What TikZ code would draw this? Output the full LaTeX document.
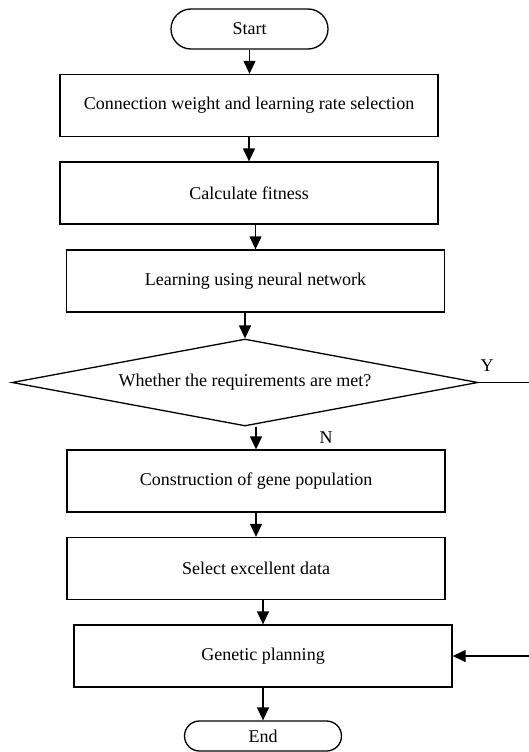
\documentclass[tikz,border=0pt]{standalone}
\usepackage{fontspec}
\setmainfont{Liberation Serif}
\usetikzlibrary{arrows.meta,shapes.geometric}

\begin{document}
\begin{tikzpicture}[x=1pt,y=-1pt,
  box/.style={draw, line width=1.3pt, minimum width=378pt, minimum height=62pt, inner sep=0pt},
  term/.style={draw, line width=1.3pt, rounded corners=20pt, minimum width=157pt, minimum height=40pt, inner sep=0pt},
  decision/.style={draw, diamond, aspect=5.36, line width=1.3pt, minimum width=466pt, minimum height=87pt, inner sep=0pt},
  arr/.style={-{Triangle[length=13pt,width=12pt]}, line width=1.3pt},
  font=\fontsize{18}{21}\selectfont]
\useasboundingbox (0,0) rectangle (529,752);

\node[term] (start) at (249.5,29) {Start};
\node[box] (weight) at (249,105.5) {Connection weight and learning rate selection};
\node[box] (fitness) at (249,193) {Calculate fitness};
\node[box] (learn) at (255.5,281) {Learning using neural network};
\node[decision] (check) at (245,382.5) {Whether the requirements are met?};
\node[box] (gene) at (256,481) {Construction of gene population};
\node[box] (select) at (256,568.5) {Select excellent data};
\node[box] (plan) at (263,656) {Genetic planning};
\node[term, rounded corners=15pt, minimum height=30pt] (end) at (263,736) {End};

\node (yes) at (487,366) {Y};
\node (no) at (326,438) {N};
\coordinate (back) at (545,382.5);

\draw[arr] (start.south) -- (start.south |- weight.north);
\draw[arr] (weight.south) -- (fitness.north);
\draw[arr] (fitness.south -| learn.north) -- (learn.north);
\draw[arr] (learn.south -| check.north) -- (check.north);
\draw[arr] (check.south -| gene.north) -- (gene.north);
\draw[arr] (gene.south) -- (select.north);
\draw[arr] (select.south -| plan.north) -- (plan.north);
\draw[arr] (plan.south) -- (end.north);
\draw[arr] (check.east) -- (back) |- (plan.east);
\end{tikzpicture}
\end{document}
